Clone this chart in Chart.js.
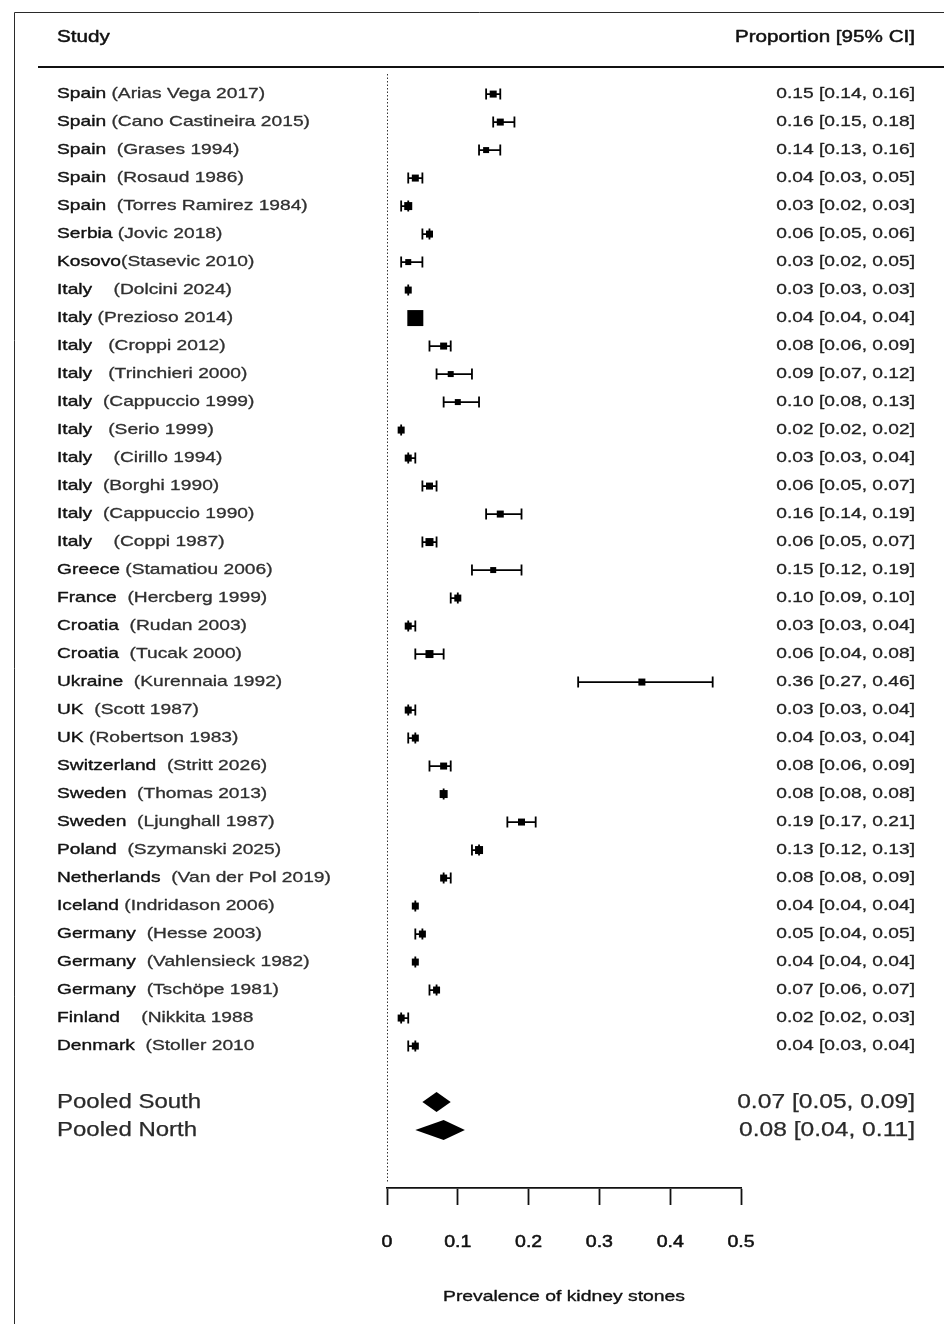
<!DOCTYPE html>
<html>
<head>
<meta charset="utf-8">
<script src="https://cdn.jsdelivr.net/npm/chart.js@4.4.1/dist/chart.umd.min.js"></script>
<style>
  html, body { margin: 0; padding: 0; background: #fff; }
  #wrap { width: 944px; height: 1324px; }
</style>
</head>
<body>
<div id="wrap"><canvas id="forest" width="944" height="1324"></canvas></div>
<script>
// ---- study data (proportion with 95% CI) ----
const studyLabels = [
  'Spain (Arias Vega 2017)',
  'Spain (Cano Castineira 2015)',
  'Spain  (Grases 1994)',
  'Spain  (Rosaud 1986)',
  'Spain  (Torres Ramirez 1984)',
  'Serbia (Jovic 2018)',
  'Kosovo(Stasevic 2010)',
  'Italy    (Dolcini 2024)',
  'Italy (Prezioso 2014)',
  'Italy   (Croppi 2012)',
  'Italy   (Trinchieri 2000)',
  'Italy  (Cappuccio 1999)',
  'Italy   (Serio 1999)',
  'Italy    (Cirillo 1994)',
  'Italy  (Borghi 1990)',
  'Italy  (Cappuccio 1990)',
  'Italy    (Coppi 1987)',
  'Greece (Stamatiou 2006)',
  'France  (Hercberg 1999)',
  'Croatia  (Rudan 2003)',
  'Croatia  (Tucak 2000)',
  'Ukraine  (Kurennaia 1992)',
  'UK  (Scott 1987)',
  'UK (Robertson 1983)',
  'Switzerland  (Stritt 2026)',
  'Sweden  (Thomas 2013)',
  'Sweden  (Ljunghall 1987)',
  'Poland  (Szymanski 2025)',
  'Netherlands  (Van der Pol 2019)',
  'Iceland (Indridason 2006)',
  'Germany  (Hesse 2003)',
  'Germany  (Vahlensieck 1982)',
  'Germany  (Tschöpe 1981)',
  'Finland    (Nikkita 1988',
  'Denmark  (Stoller 2010'
];
const estimate = [0.15, 0.16, 0.14, 0.04, 0.03, 0.06, 0.03, 0.03, 0.04, 0.08, 0.09, 0.10, 0.02, 0.03, 0.06, 0.16, 0.06,
                  0.15, 0.10, 0.03, 0.06, 0.36, 0.03, 0.04, 0.08, 0.08, 0.19, 0.13, 0.08, 0.04, 0.05, 0.04, 0.07, 0.02, 0.04];
const lower    = [0.14, 0.15, 0.13, 0.03, 0.02, 0.05, 0.02, 0.03, 0.04, 0.06, 0.07, 0.08, 0.02, 0.03, 0.05, 0.14, 0.05,
                  0.12, 0.09, 0.03, 0.04, 0.27, 0.03, 0.03, 0.06, 0.08, 0.17, 0.12, 0.08, 0.04, 0.04, 0.04, 0.06, 0.02, 0.03];
const upper    = [0.16, 0.18, 0.16, 0.05, 0.03, 0.06, 0.05, 0.03, 0.04, 0.09, 0.12, 0.13, 0.02, 0.04, 0.07, 0.19, 0.07,
                  0.19, 0.10, 0.04, 0.08, 0.46, 0.04, 0.04, 0.09, 0.08, 0.21, 0.13, 0.09, 0.04, 0.05, 0.04, 0.07, 0.03, 0.04];

// ---- pooled estimates ----
const pooledLabels   = ['Pooled South', 'Pooled North'];
const pooledEstimate = [0.07, 0.08];
const pooledLower    = [0.05, 0.04];
const pooledUpper    = [0.09, 0.11];

// ---- axis ----
const xTicks = [0, 0.1, 0.2, 0.3, 0.4, 0.5];
const xTickLabels = ['0', '0.1', '0.2', '0.3', '0.4', '0.5'];
const xTitle = 'Prevalence of kidney stones';
const headerLeft = 'Study';
const headerRight = 'Proportion [95% CI]';

// ---- styling ----
// side length (px) of each study's box
const boxSide = [7, 7, 6, 7, 8, 7, 6, 7, 16, 7, 6, 6, 7, 7, 7, 7, 8, 6, 7, 7, 8, 7, 7, 7, 7, 8, 7, 8, 7, 7, 7, 7, 7, 7, 7];
const FONT = '"Liberation Sans", Arial, Helvetica, sans-serif';
const INK = '#161616';

function fmt(e, l, u) {
  return e.toFixed(2) + ' [' + l.toFixed(2) + ', ' + u.toFixed(2) + ']';
}

function setFont(ctx, size) {
  ctx.font = size + 'px ' + FONT;
}

// text drawn slightly widened, with a hairline stroke for a fuller weight
function stretchText(ctx, text, x, y, size, sx, align, color, weight) {
  ctx.save();
  setFont(ctx, size);
  ctx.fillStyle = color || INK;
  ctx.strokeStyle = color || INK;
  ctx.lineWidth = weight === undefined ? 0.35 : weight;
  ctx.lineJoin = 'round';
  ctx.textBaseline = 'middle';
  ctx.textAlign = align || 'left';
  ctx.translate(x, y);
  ctx.scale(sx, 1);
  ctx.fillText(text, 0, 0);
  if (ctx.lineWidth > 0) ctx.strokeText(text, 0, 0);
  ctx.restore();
}

function textWidth(ctx, text, size, sx) {
  ctx.save();
  setFont(ctx, size);
  const w = ctx.measureText(text).width * sx;
  ctx.restore();
  return w;
}

const ROW_SIZE = 15, ROW_SX = 1.28;

const forestPlugin = {
  id: 'forest',
  beforeDraw(chart) {
    const ctx = chart.ctx;
    const W = chart.width, H = chart.height;
    ctx.save();
    ctx.fillStyle = '#fff';
    ctx.fillRect(0, 0, W, H);
    // outer frame
    ctx.strokeStyle = '#2a2a2a';
    ctx.lineWidth = 1;
    ctx.beginPath();
    ctx.moveTo(14.5, H);
    ctx.lineTo(14.5, 12.5);
    ctx.lineTo(W, 12.5);
    ctx.stroke();
    // header rule
    ctx.strokeStyle = '#111';
    ctx.lineWidth = 2;
    ctx.beginPath();
    ctx.moveTo(38, 67);
    ctx.lineTo(W, 67);
    ctx.stroke();
    ctx.restore();
    stretchText(ctx, headerLeft, 57, 38, 16, 1.29, 'left', '#111', 0.45);
    stretchText(ctx, headerRight, 915, 38, 16, 1.29, 'right', '#111', 0.45);
  },
  beforeDatasetsDraw(chart) {
    const ctx = chart.ctx;
    const xs = chart.scales.x, ys = chart.scales.y;
    const area = chart.chartArea;
    ctx.save();
    // reference line at zero
    ctx.strokeStyle = '#333';
    ctx.lineWidth = 1;
    ctx.setLineDash([1.5, 2]);
    const x0 = Math.round(xs.getPixelForValue(0)) + 0.5;
    ctx.beginPath();
    ctx.moveTo(x0, area.top + 4);
    ctx.lineTo(x0, area.bottom - 6);
    ctx.stroke();
    ctx.setLineDash([]);
    // confidence intervals with end caps
    ctx.strokeStyle = '#000';
    ctx.lineWidth = 1.8;
    for (let i = 0; i < estimate.length; i++) {
      const y = ys.getPixelForValue(i);
      const xl = xs.getPixelForValue(lower[i]);
      const xu = xs.getPixelForValue(upper[i]);
      ctx.beginPath();
      ctx.moveTo(xl, y); ctx.lineTo(xu, y);
      ctx.moveTo(xl, y - 5.5); ctx.lineTo(xl, y + 5.5);
      ctx.moveTo(xu, y - 5.5); ctx.lineTo(xu, y + 5.5);
      ctx.stroke();
    }
    ctx.restore();
  },
  afterDatasetsDraw(chart) {
    const ctx = chart.ctx;
    const xs = chart.scales.x, ys = chart.scales.y;
    const area = chart.chartArea;
    // pooled diamonds
    ctx.save();
    ctx.fillStyle = '#000';
    for (let k = 0; k < pooledLabels.length; k++) {
      const y = ys.getPixelForValue(estimate.length + 1 + k);
      const xl = xs.getPixelForValue(pooledLower[k]);
      const xe = xs.getPixelForValue(pooledEstimate[k]);
      const xu = xs.getPixelForValue(pooledUpper[k]);
      ctx.beginPath();
      ctx.moveTo(xl, y);
      ctx.lineTo(xe, y - 10);
      ctx.lineTo(xu, y);
      ctx.lineTo(xe, y + 10);
      ctx.closePath();
      ctx.fill();
    }
    ctx.restore();

    // study labels and proportion column
    for (let i = 0; i < studyLabels.length; i++) {
      const y = ys.getPixelForValue(i);
      const label = studyLabels[i];
      const cut = label.indexOf('(');
      const country = label.slice(0, cut);
      const study = label.slice(cut);
      stretchText(ctx, country, 57, y, ROW_SIZE, ROW_SX, 'left', '#111', 0.35);
      const w = textWidth(ctx, country, ROW_SIZE, ROW_SX);
      stretchText(ctx, study, 57 + w, y, ROW_SIZE, ROW_SX, 'left', '#303030', 0.3);
      stretchText(ctx, fmt(estimate[i], lower[i], upper[i]), 915, y, ROW_SIZE, ROW_SX, 'right', '#222', 0.3);
    }
    for (let k = 0; k < pooledLabels.length; k++) {
      const y = ys.getPixelForValue(estimate.length + 1 + k);
      stretchText(ctx, pooledLabels[k], 57, y, 20, 1.2, 'left', '#2a2a2a', 0.25);
      stretchText(ctx, fmt(pooledEstimate[k], pooledLower[k], pooledUpper[k]), 915, y, 20, 1.23, 'right', '#2a2a2a', 0.25);
    }

    // x-axis tick labels and title
    xs.ticks.forEach((t, j) => {
      const px = xs.getPixelForValue(t.value);
      stretchText(ctx, xTickLabels[j], px, area.bottom + 55, 16, 1.22, 'center', '#111', 0.5);
    });
    stretchText(ctx, xTitle, (area.left + area.right) / 2, area.bottom + 109, 15, 1.29, 'center', '#111', 0.35);
  }
};

new Chart(document.getElementById('forest'), {
  type: 'scatter',
  data: {
    datasets: [{
      data: estimate.map((v, i) => ({ x: v, y: i })),
      pointStyle: 'rect',
      pointRadius: boxSide.map(s => s / Math.SQRT2),
      pointHoverRadius: boxSide.map(s => s / Math.SQRT2),
      pointBackgroundColor: '#000',
      pointBorderWidth: 0,
      showLine: false
    }]
  },
  options: {
    responsive: false,
    animation: false,
    events: [],
    layout: { padding: { left: 387, right: 203, top: 70, bottom: 119 } },
    plugins: { legend: { display: false }, tooltip: { enabled: false } },
    scales: {
      x: {
        type: 'linear',
        min: 0,
        max: 0.5,
        afterBuildTicks: s => { s.ticks = xTicks.map(v => ({ value: v })); },
        grid: { drawOnChartArea: false, drawTicks: true, tickLength: 17, tickWidth: 1.8, tickColor: '#111' },
        border: { display: true, color: '#111', width: 1.8 },
        ticks: { display: false }
      },
      y: {
        type: 'linear',
        reverse: true,
        min: -0.86,
        max: 39.07,
        display: false
      }
    }
  },
  plugins: [forestPlugin]
});
</script>
</body>
</html>
